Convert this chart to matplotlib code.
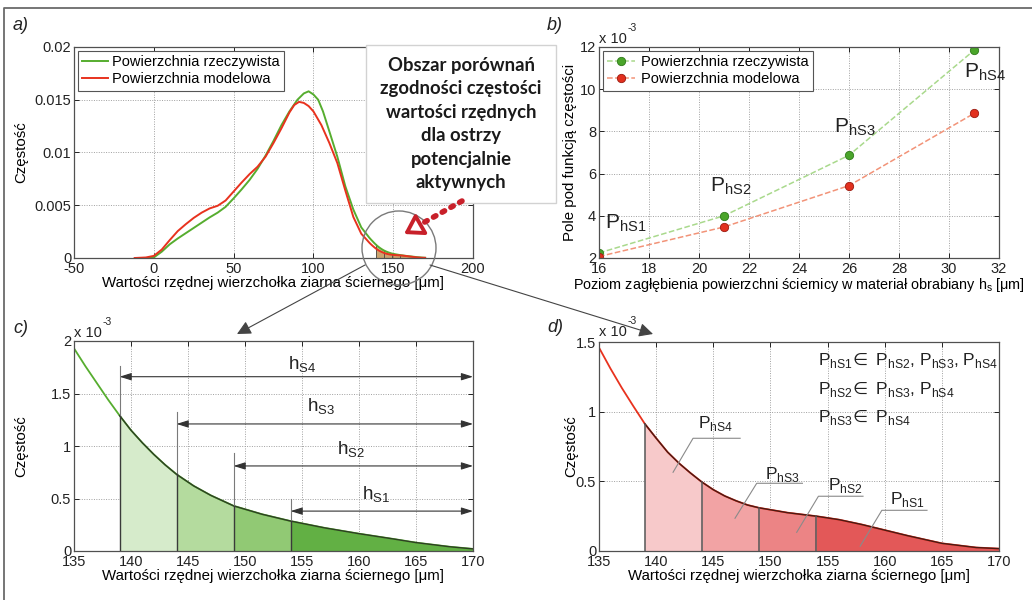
import matplotlib
matplotlib.use("Agg")
import matplotlib.pyplot as plt
import numpy as np
from matplotlib.patches import Rectangle, Circle, FancyArrowPatch
from matplotlib.lines import Line2D

plt.rcParams['font.family'] = ['Liberation Sans', 'DejaVu Sans']
plt.rcParams['mathtext.fontset'] = 'dejavusans'
plt.rcParams['font.size'] = 10.5

# ---------------- data ----------------
# Frequency of grain-tip ordinates [x 1e-3] for the real surface
ordinate_real = [-3, 0, 5, 10, 15, 20, 25, 30, 35, 40, 45, 50, 55, 60, 65, 70, 75, 80, 85,
                 90, 94, 97, 100, 103, 106, 110, 115, 120, 125, 130, 135, 136, 137, 138, 139,
                 140, 141, 142, 143, 144, 145.5, 147, 149, 151.5, 154, 157, 160, 163, 165,
                 168, 170]
freq_real = [0, 0.05, 0.6, 1.3, 1.85, 2.35, 2.85, 3.35, 3.85, 4.3, 4.85, 5.65, 6.5, 7.4,
             8.45, 9.7, 11.1, 12.6, 13.9, 15.0, 15.6, 15.8, 15.5, 15.0, 13.9, 12.0, 9.6,
             6.8, 4.6, 2.9, 1.93, 1.76, 1.6, 1.44, 1.29, 1.15, 1.03, 0.92, 0.82, 0.73, 0.62,
             0.53, 0.43, 0.35, 0.285, 0.22, 0.165, 0.115, 0.08, 0.04, 0.02]

# Frequency of grain-tip ordinates [x 1e-3] for the model surface
ordinate_model = [-12, -5, 0, 5, 10, 15, 20, 25, 30, 35, 40, 45, 50, 55, 60, 65, 70, 75, 80,
                  85, 88, 91, 94, 97, 100, 105, 110, 115, 120, 125, 130, 135, 136, 137, 138,
                  139, 140, 141, 142, 143, 144, 145, 146, 147, 148, 149, 151.5, 154, 156, 158,
                  160, 162, 165, 168, 170]
freq_model = [0, 0.05, 0.2, 0.8, 1.7, 2.55, 3.2, 3.8, 4.3, 4.7, 4.95, 5.45, 6.3, 7.15, 7.95,
              8.65, 9.6, 10.9, 12.3, 13.8, 14.5, 14.8, 14.7, 14.4, 13.9, 12.6, 10.9, 9.0,
              6.4, 3.9, 2.3, 1.46, 1.31, 1.17, 1.04, 0.914, 0.81, 0.71, 0.63, 0.56, 0.495,
              0.44, 0.395, 0.36, 0.33, 0.31, 0.275, 0.25, 0.225, 0.19, 0.15, 0.11, 0.055,
              0.025, 0.017]

# Wheel penetration depth h_s [um] and area under the frequency curve [x 1e-3]
hs_levels = [16, 21, 26, 31]
area_real = [2.24, 4.00, 6.87, 11.84]
area_model = [2.07, 3.47, 5.43, 8.85]
area_names = ['hS1', 'hS2', 'hS3', 'hS4']

ordinate_max = 170
cut_levels = [ordinate_max - h for h in hs_levels]   # 154, 149, 144, 139

legend_labels = ['Powierzchnia rzeczywista', 'Powierzchnia modelowa']
xlabel_ord = 'Wartości rzędnej wierzchołka ziarna ściernego [μm]'
xlabel_hs = 'Poziom zagłębienia powierzchni ściernicy w materiał obrabiany h$_\\mathregular{s}$ [μm]'
ylabel_freq = 'Częstość'
ylabel_area = 'Pole pod funkcją częstości'
box_text = 'Obszar porównań\nzgodności częstości\nwartości rzędnych\ndla ostrzy\npotencjalnie\naktywnych'

# ---------------- colours ----------------
GREEN = '#56ad2f'
RED = '#e8321e'
GREEN_LIGHT = '#a9d98c'
RED_LIGHT = '#f29378'
GREEN_FILLS = ['#d6ebcb', '#b4db9e', '#91c974', '#62b044']   # 139-144 ... 154-170
RED_FILLS = ['#f7c9ca', '#f2a3a4', '#ec8485', '#e35858']

LABEL_FS = 10.8

W, H = 1032, 600
fig = plt.figure(figsize=(W / 100, H / 100), dpi=100)


def fx(x):
    return x / W


def fy(y):
    return 1 - y / H


def make_axes(l, t, r, b):
    return fig.add_axes([fx(l), fy(b), (r - l) / W, (b - t) / H])


def style(ax, xlim, xticks, ylim, yticks, ylabels):
    ax.set_xlim(*xlim)
    ax.set_ylim(*ylim)
    ax.set_xticks(xticks)
    ax.set_xticklabels([f'{v:g}' for v in xticks])
    ax.set_yticks(yticks)
    ax.set_yticklabels(ylabels)
    ax.grid(True, linestyle=(0, (1, 1.5)), color='#a0a0a0', lw=0.7)
    ax.set_axisbelow(True)
    ax.tick_params(direction='in', length=3.5, width=0.7, top=True, right=True,
                   labelsize=10.5, colors='#222222')
    ax.tick_params(axis='y', pad=2)
    ax.tick_params(axis='x', pad=3)
    for s in ax.spines.values():
        s.set_color('#505050')
        s.set_linewidth(0.9)


def exponent(xl, base_y):
    fig.text(fx(xl), fy(base_y), 'x 10', fontsize=10.5, va='baseline', ha='left', color='#222')
    fig.text(fx(xl + 29), fy(base_y - 12), '-3', fontsize=7.5, va='baseline', ha='left', color='#222')


def label_axes(ax, xlab, ylab, ylab_x, xlab_fs=LABEL_FS):
    ax.set_xlabel(xlab, fontsize=xlab_fs)
    ax.xaxis.set_label_coords(0.5, -0.085)
    ax.set_ylabel(ylab, fontsize=LABEL_FS)
    ax.yaxis.set_label_coords(ylab_x, 0.5)


x_r = np.array(ordinate_real, float)
y_r = np.array(freq_real, float)
x_m = np.array(ordinate_model, float)
y_m = np.array(freq_model, float)
cuts_sorted = sorted(cut_levels)          # 139, 144, 149, 154

# ---------------- a) ----------------
ax_a = make_axes(74, 47, 473, 258)
style(ax_a, (-50, 200), [-50, 0, 50, 100, 150, 200], (0, 0.02),
      [0, 0.005, 0.01, 0.015, 0.02], ['0', '0.005', '0.01', '0.015', '0.02'])
mask_r = x_r >= cuts_sorted[0]
mask_m = x_m >= cuts_sorted[0]
ax_a.fill_between(x_r[mask_r], y_r[mask_r] * 1e-3, color='#9bbf5f', alpha=0.7, lw=0)
ax_a.fill_between(x_m[mask_m], y_m[mask_m] * 1e-3, color='#d9845a', alpha=0.6, lw=0)
for c in cuts_sorted:
    ax_a.plot([c, c], [0, np.interp(c, x_r, y_r) * 1e-3], color='#444', lw=0.6)
la, = ax_a.plot(x_r, y_r * 1e-3, color=GREEN, lw=1.4)
lb, = ax_a.plot(x_m, y_m * 1e-3, color=RED, lw=1.4)
leg = ax_a.legend([la, lb], legend_labels, loc='upper left', bbox_to_anchor=(0.01, 0.981),
                  borderaxespad=0, fancybox=False, edgecolor='#555', framealpha=1,
                  handlelength=1.75, handletextpad=0.3, labelspacing=0.2, borderpad=0.3,
                  fontsize=10.5)
leg.get_frame().set_linewidth(0.8)
label_axes(ax_a, xlabel_ord, ylabel_freq, -0.115)

# ---------------- b) ----------------
ax_b = make_axes(599, 47, 999, 258)
style(ax_b, (16, 32), list(range(16, 33, 2)), (2, 12), [2, 4, 6, 8, 10, 12],
      ['2', '4', '6', '8', '10', '12'])
hb1, = ax_b.plot(hs_levels, area_real, ls='--', color=GREEN_LIGHT, lw=1.1, marker='o',
                 ms=6, mfc='#4aa52a', mec='#2f7a1a', mew=0.6)
hb2, = ax_b.plot(hs_levels, area_model, ls='--', color=RED_LIGHT, lw=1.1, marker='o',
                 ms=6, mfc='#e2301e', mec='#9a1a10', mew=0.6)
leg = ax_b.legend([hb1, hb2], legend_labels, loc='upper left', bbox_to_anchor=(0.01, 0.981),
                  borderaxespad=0, fancybox=False, edgecolor='#555', framealpha=1,
                  handlelength=1.9, handletextpad=0.4, labelspacing=0.2, borderpad=0.3,
                  numpoints=1, fontsize=10.5)
leg.get_frame().set_linewidth(0.8)
label_pos_b = [(16.25, 3.42), (20.45, 5.15), (25.4, 7.94), (30.6, 10.55)]
for name, (px, py) in zip(area_names, label_pos_b):
    ax_b.text(px, py, 'P$_\\mathregular{%s}$' % name, fontsize=15, ha='left',
              va='baseline', color='#222')
label_axes(ax_b, xlabel_hs, ylabel_area, -0.055, xlab_fs=10.4)
exponent(599, 43)

# ---------------- c) ----------------
ax_c = make_axes(74, 341, 473, 551)
style(ax_c, (135, 170), list(range(135, 171, 5)), (0, 2), [0, 0.5, 1, 1.5, 2],
      ['0', '0.5', '1', '1.5', '2'])
edges = cuts_sorted + [ordinate_max]
for i in range(4):
    m = (x_r >= edges[i]) & (x_r <= edges[i + 1])
    ax_c.fill_between(x_r[m], y_r[m], color=GREEN_FILLS[i], lw=0)
ax_c.plot(x_r, y_r, color=GREEN, lw=1.3)
m = x_r >= cuts_sorted[0]
ax_c.plot(x_r[m], y_r[m], color='#2e3f24', lw=1.0)
tops_c = [1.76, 1.32, 0.93, 0.495]
arrow_y_c = [1.66, 1.21, 0.81, 0.38]
h_lab_c = [(153.8, 1.727), (155.4, 1.324), (158.1, 0.917), (160.3, 0.489)]
for c, top, ay, (hx, hy), name in zip(cuts_sorted, tops_c, arrow_y_c, h_lab_c,
                                      ['S4', 'S3', 'S2', 'S1']):
    yc = np.interp(c, x_r, y_r)
    ax_c.plot([c, c], [yc, top], color='#7a7a7a', lw=0.8)
    ax_c.plot([c, c], [0, yc], color='#3a3a3a', lw=1.0)
    ax_c.add_patch(FancyArrowPatch((c, ay), (ordinate_max, ay),
                                   arrowstyle='<|-|>,head_length=0.7,head_width=0.22',
                                   mutation_scale=10, color='#333', lw=0.8,
                                   shrinkA=0, shrinkB=0))
    ax_c.text(hx, hy, 'h$_\\mathregular{%s}$' % name, fontsize=13.5, ha='left',
              va='baseline', color='#222')
label_axes(ax_c, xlabel_ord, ylabel_freq, -0.115)
exponent(74, 337)

# ---------------- d) ----------------
ax_d = make_axes(599, 342, 999, 551)
style(ax_d, (135, 170), list(range(135, 171, 5)), (0, 1.5), [0, 0.5, 1, 1.5],
      ['0', '0.5', '1', '1.5'])
for i in range(4):
    m = (x_m >= edges[i]) & (x_m <= edges[i + 1])
    ax_d.fill_between(x_m[m], y_m[m], color=RED_FILLS[i], lw=0)
ax_d.plot(x_m, y_m, color=RED, lw=1.3)
m = x_m >= cuts_sorted[0]
ax_d.plot(x_m[m], y_m[m], color='#4a1a14', lw=1.0)
for c in cuts_sorted:
    ax_d.plot([c, c], [0, np.interp(c, x_m, y_m)], color='#555', lw=1.1)
# leader lines: (name, label x, label y, underline start, underline end, underline y, tip x, tip y)
leaders = [('hS4', 143.67, 0.88, 143.23, 147.35, 0.809, 141.48, 0.565),
           ('hS3', 149.5, 0.52, 148.8, 152.8, 0.486, 146.9, 0.235),
           ('hS2', 155.05, 0.436, 154.2, 158.1, 0.393, 152.3, 0.134),
           ('hS1', 160.5, 0.34, 159.75, 163.7, 0.292, 157.85, 0.034)]
for name, lx, ly, u0, u1, uy, tx, ty in leaders:
    ax_d.plot([tx, u0, u1], [ty, uy, uy], color='#8a8a8a', lw=0.8)
    ax_d.text(lx, ly, 'P$_\\mathregular{%s}$' % name, fontsize=12.5, ha='left',
              va='baseline', color='#222')
rel_lines = ['P$_\\mathregular{hS1}$$\\!\\in$ P$_\\mathregular{hS2}$, P$_\\mathregular{hS3}$, P$_\\mathregular{hS4}$',
             'P$_\\mathregular{hS2}$$\\!\\in$ P$_\\mathregular{hS3}$, P$_\\mathregular{hS4}$',
             'P$_\\mathregular{hS3}$$\\!\\in$ P$_\\mathregular{hS4}$']
for txt, yb in zip(rel_lines, [1.333, 1.13, 0.926]):
    ax_d.text(154.2, yb, txt, fontsize=12.5, ha='left', va='baseline', color='#222')
label_axes(ax_d, xlabel_ord, ylabel_freq, -0.053)
exponent(599, 336)

# ---------------- panel letters ----------------
for lab, x0, yb in [('a)', 13, 30), ('b)', 547, 30), ('c)', 13, 333), ('d)', 547, 332)]:
    fig.text(fx(x0), fy(yb), lab, fontsize=13, style='italic', va='baseline', ha='left',
             color='#222')

# ---------------- overlays ----------------
box = Rectangle((fx(366), fy(203)), 190 / W, 158 / H, transform=fig.transFigure,
                facecolor='white', edgecolor='#d2d2d2', lw=1.0, zorder=5)
fig.patches.append(box)
fig.text(fx(461), fy(124), box_text, ha='center', va='center', fontsize=13.3,
         family='Lato', weight='bold', linespacing=1.47, color='#1a1a1a', zorder=6)

ring = Circle((3.99, (H - 248) / 100), 0.37, transform=fig.dpi_scale_trans,
              facecolor='none', edgecolor='#7a7a7a', lw=1.0, zorder=4)
fig.patches.append(ring)

for (x0, y0), (x1, y1) in [((365, 265), (237, 334)), ((430, 265), (653, 334))]:
    fig.patches.append(FancyArrowPatch((fx(x0), fy(y0)), (fx(x1), fy(y1)),
                                       transform=fig.transFigure,
                                       arrowstyle='-|>,head_length=0.6,head_width=0.3',
                                       mutation_scale=14, color='#444', lw=0.8,
                                       shrinkA=0, shrinkB=0, zorder=4))

fig.lines.append(Line2D([fx(462), fx(416)], [fy(201), fy(227)], transform=fig.transFigure,
                        color='#c8202a', lw=4, ls=(0, (0.5, 1.3)),
                        solid_capstyle='round', dash_capstyle='round', zorder=6))
fig.patches.append(FancyArrowPatch((fx(418), fy(226)), (fx(404), fy(234)),
                                   transform=fig.transFigure,
                                   arrowstyle='-|>,head_length=0.55,head_width=0.35',
                                   mutation_scale=20, facecolor='white', edgecolor='#c8202a',
                                   lw=2.8, shrinkA=0, shrinkB=0, zorder=6))

# frame around the figure
fig.lines.append(Line2D([fx(4), fx(4), fx(W)], [fy(H), fy(7.5), fy(7.5)],
                        transform=fig.transFigure, color='#6a6a6a', lw=1.3))

fig.savefig('out.png', dpi=100)
